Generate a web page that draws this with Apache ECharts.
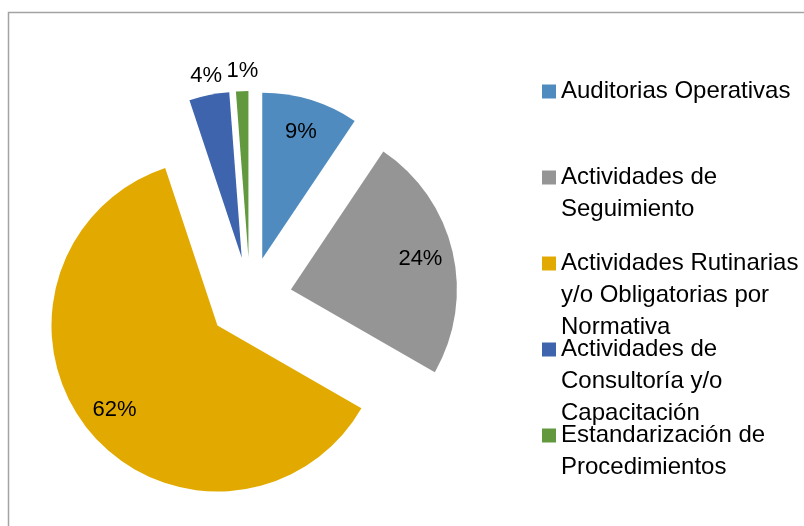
<!DOCTYPE html>
<html>
<head>
<meta charset="utf-8">
<script src="https://cdn.jsdelivr.net/npm/echarts@6/dist/echarts.min.js"></script>
<style>
  html, body { margin: 0; padding: 0; background: #fff; }
  #chart { width: 804px; height: 526px; }
</style>
</head>
<body>
<div id="chart"></div>
<script>
// datos
var categorias = [
  'Auditorias Operativas',
  'Actividades de Seguimiento',
  'Actividades Rutinarias y/o Obligatorias por Normativa',
  'Actividades de Consultoría y/o Capacitación',
  'Estandarización de Procedimientos'
];
var valores = [9.4, 23.9, 61.6, 3.9, 1.2];
var colores = ['#4F8BBF', '#959595', '#E2AA00', '#3D64AD', '#62993E'];
// etiquetas que van dentro (true) o fuera (false) de la porcion
var etiquetaDentro = [true, true, true, false, false];

var FONT = 'Liberation Sans, Arial, sans-serif';
var CENTRO = [250, 299];
var OFFSET = 42;

var chart = echarts.init(document.getElementById('chart'), null, { renderer: 'canvas' });

function pct(p) {
  return Math.round(p.value) + '%';
}

function datos(fn) {
  return categorias.map(function (n, i) {
    var d = { name: n, value: valores[i], selected: true };
    return fn ? fn(d, i) : d;
  });
}

var baseSerie = {
  type: 'pie',
  center: CENTRO,
  startAngle: 90,
  clockwise: true,
  selectedMode: 'multiple',
  selectedOffset: OFFSET,
  avoidLabelOverlap: false,
  minShowLabelAngle: 0,
  animation: false,
  emphasis: { disabled: true },
  labelLayout: { hideOverlap: false }
};

// porciones visibles
var seriePrincipal = Object.assign({}, baseSerie, {
  name: 'principal',
  radius: [0, 166],
  label: { show: false },
  labelLine: { show: false },
  itemStyle: { borderWidth: 0 },
  data: datos(function (d, i) {
    d.itemStyle = { color: colores[i] };
    d.select = { itemStyle: { color: colores[i], borderWidth: 0 } };
    return d;
  })
});

// solo etiquetas (series transparentes); mostrar = lista de indices con etiqueta
function serieEtiquetas(nombre, radio, dentro, mostrar) {
  return Object.assign({}, baseSerie, {
    name: nombre,
    silent: true,
    radius: radio,
    itemStyle: { color: 'rgba(0,0,0,0)', borderWidth: 0 },
    select: { itemStyle: { color: 'rgba(0,0,0,0)', borderWidth: 0 } },
    label: {
      position: dentro ? 'inside' : 'outside',
      distanceToLabelLine: -17,
      formatter: pct,
      fontFamily: FONT,
      fontSize: 22,
      color: '#000'
    },
    labelLine: { show: false, length: 20, length2: 0 },
    data: datos(function (d, i) {
      if (mostrar.indexOf(i) < 0) {
        d.label = { show: false };
      }
      return d;
    })
  });
}

var idxDentro = [], idxFuera = [];
etiquetaDentro.forEach(function (v, i) { (v ? idxDentro : idxFuera).push(i); });

var series = [
  seriePrincipal,
  serieEtiquetas('etiquetasIn', [94, 166], true, idxDentro),
  serieEtiquetas('etiquetasOut', [0, 166], false, idxFuera)
];

// una leyenda por categoria, separadas igual que en el original
var leyendas = categorias.map(function (n, i) {
  return {
    data: [n],
    orient: 'vertical',
    left: 542,
    top: 75.5 + i * 86,
    padding: 0,
    itemWidth: 14,
    itemHeight: 14,
    icon: 'rect',
    selectedMode: false,
    formatter: function (name) { return '{n|' + name + '}'; },
    textStyle: {
      fontFamily: FONT,
      fontSize: 24,
      color: '#000',
      width: 250,
      height: 32,
      lineHeight: 32,
      overflow: 'break',
      rich: {
        n: { fontFamily: FONT, fontSize: 24, lineHeight: 32, color: '#000' }
      }
    }
  };
});

var option = {
  backgroundColor: '#fff',
  animation: false,
  legend: leyendas,
  graphic: [{
    type: 'rect',
    shape: { x: 8.5, y: 12.5, width: 900, height: 700 },
    style: { fill: 'none', stroke: '#A3A3A3', lineWidth: 1.5 },
    silent: true
  }],
  series: series
};

chart.setOption(option);
</script>
</body>
</html>
